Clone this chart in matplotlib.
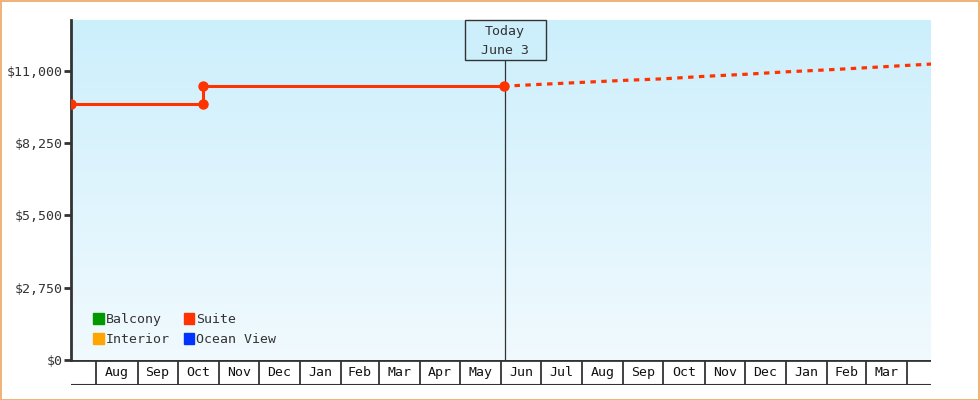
import numpy as np
import matplotlib
matplotlib.use("Agg")
import matplotlib.pyplot as plt
import matplotlib.dates as mdates
from matplotlib.patches import Rectangle
import datetime as dt

# ---- data ----
x_start = "2022-07-13"
x_end = "2024-04-19"
today_date = "2023-06-03"
today_label = "Today\nJune 3"

suite_dates = ["2022-07-13", "2022-10-20", "2022-10-20", "2023-06-03"]
suite_values = [9720, 9720, 10405, 10405]

forecast_dates = ["2023-06-03", "2023-07-01", "2023-08-01", "2023-09-01", "2023-10-01",
                  "2023-11-01", "2023-12-01", "2024-01-01", "2024-02-01", "2024-03-01",
                  "2024-04-01", "2024-04-19"]
forecast_values = [10405, 10475, 10550, 10625, 10685, 10780, 10855, 10950, 11025, 11105,
                   11195, 11245]

legend_names = ["Balcony", "Interior", "Suite", "Ocean View"]
legend_colors = ["#009900", "#FFA500", "#FF3300", "#0033FF"]

y_ticks = [0, 2750, 5500, 8250, 11000]
y_max = 12920

# ---- figure ----
plt.rcParams['font.family'] = ['DejaVu Sans Mono']
W, H = 980, 400
fig = plt.figure(figsize=(W / 100, H / 100), dpi=100)
fig.patch.set_facecolor("white")

L, R, T, B = 71, 931, 20, 360
ax = fig.add_axes([L / W, 1 - B / H, (R - L) / W, (B - T) / H])
band = fig.add_axes([L / W, 1 - 385 / H, (R - L) / W, 25 / H])

d = lambda s: mdates.date2num(dt.datetime.strptime(s, "%Y-%m-%d"))
x0, x1 = d(x_start), d(x_end)
ppd = (R - L) / (x1 - x0)  # pixels per day

# gradient background (light blue top -> near white bottom)
grad = np.linspace(0, 1, 256).reshape(-1, 1)
top_c = np.array([204, 239, 252]) / 255
bot_c = np.array([241, 250, 254]) / 255
img = top_c[None, None, :] * (1 - grad[:, :, None]) + bot_c[None, None, :] * grad[:, :, None]
ax.imshow(img, extent=[x0, x1, 0, y_max], aspect="auto", origin="upper", zorder=0)
ax.set_xlim(x0, x1)
ax.set_ylim(0, y_max)

red = "#FF3300"
sx = [d(s) for s in suite_dates]
ax.plot(sx, suite_values, color=red, lw=2.2, marker="o", ms=6.5, zorder=5,
        solid_capstyle="butt")
fx = [d(s) for s in forecast_dates]
ax.plot(fx, forecast_values, color=red, lw=2.3, ls=(0, (1.7, 1.7)), zorder=4)

# today line & box
tx = d(today_date) + 1.0 / ppd
box_h = 40 / (B - T)
ax.plot([tx, tx], [0, y_max * (1 - box_h)], color="#333333", lw=0.9, zorder=3)
bw = 81 / ppd
ax.add_patch(Rectangle((tx - 40 / ppd, y_max * (1 - box_h)), bw, y_max * box_h,
                       fc="#CDEFFC", ec="#333333", lw=1.0, zorder=6, clip_on=False))
ax.text(tx + 0.5 / ppd, y_max * (1 - box_h / 2) - 1.0 * y_max / (B - T), today_label,
        ha="center", va="center", fontsize=9.5, color="#333333", linespacing=1.5, zorder=7)

# spines & ticks
for s in ["top", "right", "bottom"]:
    ax.spines[s].set_visible(False)
ax.spines["left"].set_color("#333333")
ax.spines["left"].set_linewidth(2)
ax.set_yticks(y_ticks)
ax.set_yticklabels([f"${v:,}" for v in y_ticks], fontsize=9.5, color="#333333")
ax.tick_params(axis="y", length=5, width=2, color="#333333", pad=1)
ax.set_xticks([])

# legend
hx, hy = 0.026, 0.12
for i, (n, c) in enumerate(zip(legend_names, legend_colors)):
    col, row = i // 2, i % 2
    xx = hx + col * 0.105
    yy = hy - row * 0.059
    ax.add_patch(Rectangle((xx, yy - 0.0145), 0.0122, 0.032, transform=ax.transAxes,
                           color=c, zorder=7))
    ax.text(xx + 0.0145, yy, n, transform=ax.transAxes, fontsize=9.5, va="center",
            ha="left", color="#333333", zorder=7)

# month band
band.set_xlim(x0, x1)
band.set_ylim(0, 1)
for s in band.spines.values():
    s.set_visible(False)
band.set_xticks([])
band.set_yticks([])
band.patch.set_alpha(0)
band.axhline(1, color="#333333", lw=2)
band.axhline(0, color="#333333", lw=1.5)
months = []
cur = dt.datetime(2022, 8, 1)
endd = dt.datetime.strptime(x_end, "%Y-%m-%d")
while cur <= endd:
    months.append(cur)
    cur = dt.datetime(cur.year + (cur.month // 12), cur.month % 12 + 1, 1)
for i, m in enumerate(months):
    mx = mdates.date2num(m)
    band.plot([mx, mx], [0, 1], color="#333333", lw=1.3)
    if i + 1 < len(months):
        nx = mdates.date2num(months[i + 1])
        band.text((mx + nx) / 2, 0.5, m.strftime("%b"), ha="center", va="center",
                  fontsize=9.5, color="#111111")

# orange frame
fig.add_artist(Rectangle((0.5 / W, 0.5 / H), 1 - 1.5 / W, 1 - 1.5 / H,
                         transform=fig.transFigure, fill=False, ec="#EBA55F", lw=1.2))

fig.savefig("out.png", dpi=100)
